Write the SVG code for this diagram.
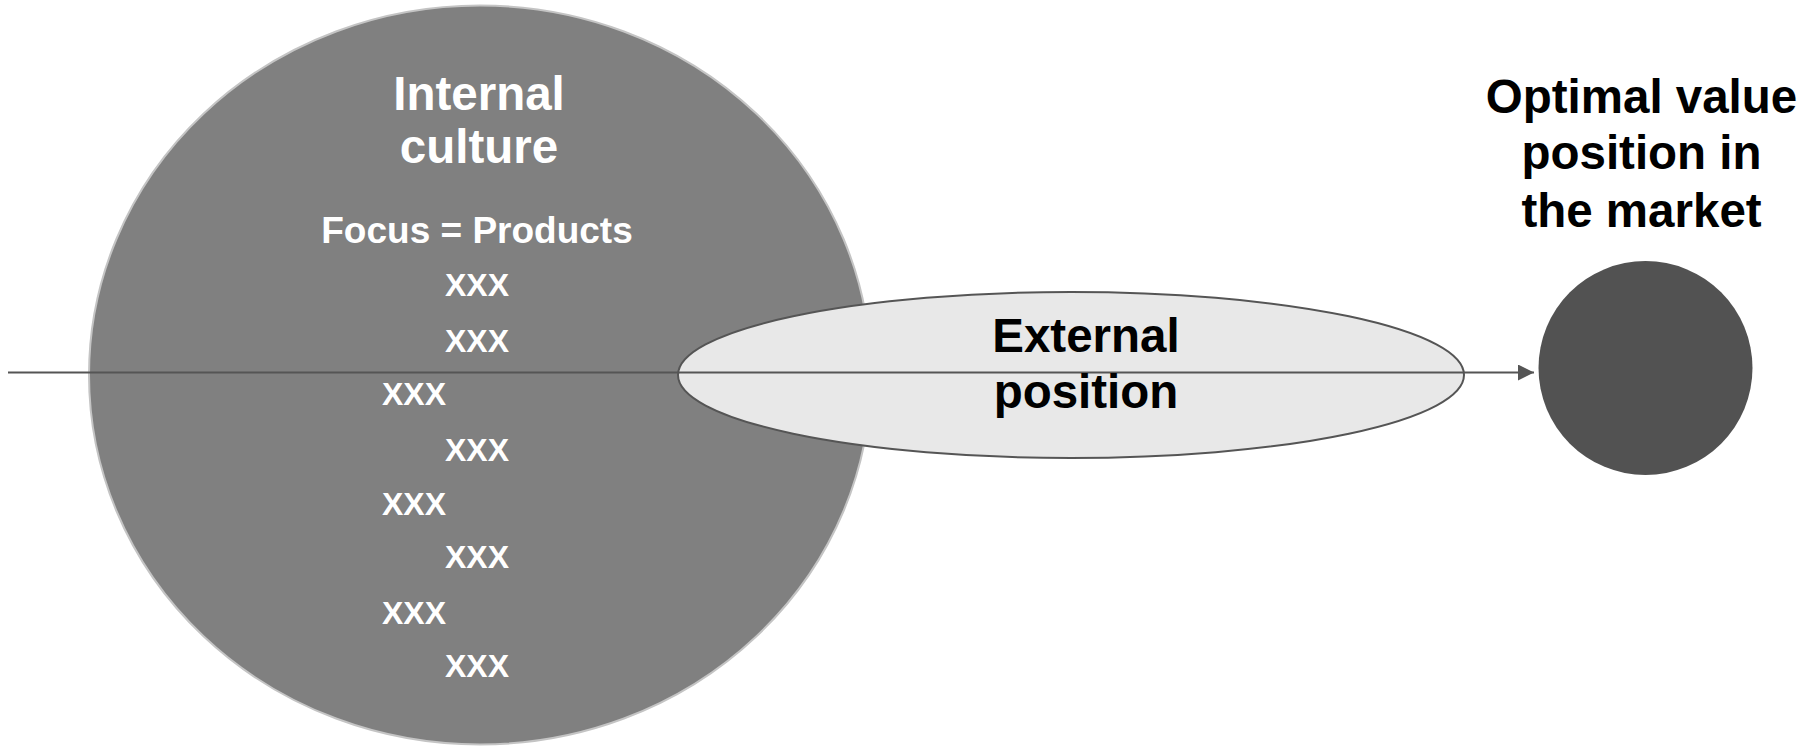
<svg xmlns="http://www.w3.org/2000/svg" width="1807" height="746" viewBox="0 0 1807 746">
  <style>
    text { font-family: "Liberation Sans", Arial, Helvetica, sans-serif; font-weight: bold; }
    .title { font-size: 47.5px; text-anchor: middle; }
    .white { fill: #ffffff; }
    .dark { fill: #000000; }
    .sub { font-size: 37px; text-anchor: middle; }
    .item { font-size: 32px; fill: #ffffff; }
    .conn { stroke: #555555; stroke-width: 2; fill: none; }
  </style>
  <defs>
    <marker id="arrow" viewBox="0 0 16 16" refX="16" refY="8" markerWidth="16" markerHeight="16" markerUnits="userSpaceOnUse" orient="auto">
      <path d="M0,0 L16,8 L0,16 Z" fill="#555555"/>
    </marker>
  </defs>

  <rect width="1807" height="746" fill="#ffffff"/>

  <!-- internal culture -->
  <g id="internal-culture">
    <ellipse cx="480" cy="375" rx="391" ry="369.5" fill="#808080" stroke="#c4c4c4" stroke-width="2"/>
    <text class="title white" x="479" y="110">Internal</text>
    <text class="title white" x="479" y="163">culture</text>
    <text class="sub white" x="477" y="243">Focus = Products</text>
    <text class="item" x="445" y="296">XXX</text>
    <text class="item" x="445" y="352">XXX</text>
    <text class="item" x="382" y="405">XXX</text>
    <text class="item" x="445" y="461">XXX</text>
    <text class="item" x="382" y="515">XXX</text>
    <text class="item" x="445" y="568">XXX</text>
    <text class="item" x="382" y="624">XXX</text>
    <text class="item" x="445" y="677">XXX</text>
  </g>

  <!-- external position -->
  <g id="external-position">
    <ellipse cx="1071" cy="375" rx="393" ry="83" fill="#e8e8e8" stroke="#555555" stroke-width="2"/>
  </g>

  <!-- connectors -->
  <g id="connectors">
    <line class="conn" x1="8" y1="372.5" x2="1534" y2="372.5" marker-end="url(#arrow)"/>
  </g>

  <g id="external-position-label">
    <text class="title dark" x="1086" y="352">External</text>
    <text class="title dark" x="1086" y="408">position</text>
  </g>

  <!-- optimal value position -->
  <g id="optimal-position">
    <circle cx="1645.5" cy="368" r="107" fill="#525252"/>
    <text class="title dark" x="1641.5" y="113">Optimal value</text>
    <text class="title dark" x="1641.5" y="169">position in</text>
    <text class="title dark" x="1641.5" y="227">the market</text>
  </g>
</svg>
